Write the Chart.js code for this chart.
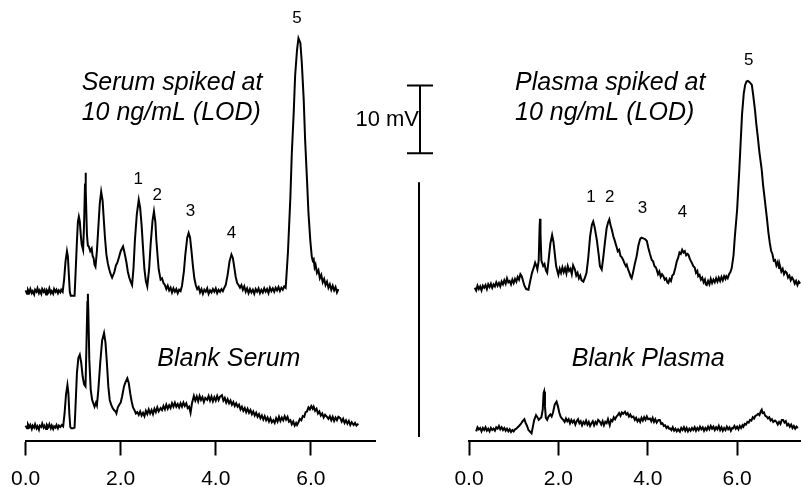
<!DOCTYPE html>
<html><head><meta charset="utf-8">
<script src="https://cdn.jsdelivr.net/npm/chart.js@4"></script>
<style>
html,body{margin:0;padding:0;background:#fff;}
#wrap{position:relative;width:801px;height:487px;overflow:hidden;background:#fff;}
#cL{position:absolute;left:0;top:0;}
#cR{position:absolute;left:440px;top:0;}
</style></head><body>
<div id="wrap">
<canvas id="cL" width="440" height="487"></canvas>
<canvas id="cR" width="361" height="487"></canvas>
</div>
<script>
// x: retention time (min); y: detector signal (mV) relative to each trace's own baseline
const xTickValues = [0, 2, 4, 6];

const serumSpiked = [
[0.00,0.2],[0.03,-0.3],[0.05,0.3],[0.08,-0.1],[0.10,0.4],[0.13,-0.2],[0.15,0.1],[0.18,-0.4],[0.20,0.3],[0.23,0.0],[0.25,0.5],[0.28,-0.2],[0.30,0.2],[0.33,-0.3],[0.35,0.4],[0.38,0.0],[0.40,0.3],[0.43,-0.4],[0.45,0.2],[0.48,-0.1],[0.50,0.5],[0.53,-0.2],[0.55,0.1],[0.58,-0.3],[0.60,0.4],[0.63,0.0],[0.65,0.3],[0.68,-0.2],[0.70,0.2],[0.73,-0.1],[0.75,0.3],[0.78,0.0],
[0.81,1.8],[0.84,4.5],[0.87,6.0],[0.89,5.2],[0.91,2.5],[0.93,0.0],[0.95,-0.6],[0.99,-0.6],[1.03,-0.6],
[1.05,2.5],[1.08,7.5],[1.10,10.3],[1.12,11.1],[1.14,10.4],[1.16,8.5],[1.18,7.0],[1.21,6.2],[1.23,10.0],[1.25,16.0],[1.26,17.6],[1.27,15.0],[1.29,8.5],[1.31,6.8],[1.33,6.7],[1.36,6.0],[1.39,6.4],[1.41,5.3],[1.43,5.0],[1.45,4.0],[1.47,3.7],[1.50,6.0],[1.53,9.5],[1.56,13.0],[1.59,14.8],[1.62,13.5],[1.64,11.2],[1.67,8.0],[1.70,5.5],[1.73,4.2],[1.76,3.3],[1.79,2.6],[1.82,2.1],[1.85,2.6],[1.87,3.0],[1.90,3.9],[1.93,4.3],[1.96,5.0],[2.00,6.0],[2.05,6.7],[2.08,5.8],[2.12,4.4],[2.15,3.0],[2.18,2.1],[2.21,1.5],[2.24,1.0],[2.27,3.5],[2.30,7.7],[2.34,11.5],[2.38,13.6],[2.41,12.4],[2.44,9.9],[2.47,6.5],[2.50,3.3],[2.53,1.6],[2.56,0.8],[2.60,3.5],[2.63,7.0],[2.67,10.5],[2.70,11.9],[2.73,10.3],[2.75,7.7],[2.78,5.0],[2.80,3.3],[2.84,1.8],[2.87,2.0],[2.90,1.3],[2.93,1.0],[2.96,0.4],[2.99,0.9],[3.02,0.2],[3.05,0.6],[3.08,-0.1],[3.11,0.5],[3.14,0.0],[3.17,0.4],[3.20,-0.2],[3.23,0.3],[3.26,0.1],[3.29,0.9],[3.33,3.0],[3.36,5.5],[3.40,8.0],[3.43,8.7],[3.46,8.0],[3.49,6.0],[3.52,3.8],[3.55,2.0],[3.58,1.0],[3.61,0.4],[3.64,0.7],[3.67,-0.1],[3.70,0.4],[3.73,-0.3],[3.76,0.3],[3.79,0.0],[3.82,0.5],[3.85,-0.3],[3.88,0.2],[3.91,-0.1],[3.94,0.4],[3.97,0.0],[4.00,0.5],[4.03,-0.2],[4.06,0.3],[4.09,0.0],[4.12,0.4],[4.15,0.1],[4.18,0.6],[4.21,1.0],[4.25,2.5],[4.29,4.5],[4.33,5.5],[4.36,5.0],[4.39,3.6],[4.42,2.2],[4.45,1.3],[4.48,1.0],[4.51,0.6],[4.54,1.0],[4.57,0.3],[4.60,0.8],[4.63,0.0],[4.66,0.5],[4.69,-0.2],[4.72,0.4],[4.75,-0.1],[4.78,0.3],[4.81,-0.3],[4.84,0.4],[4.87,0.0],[4.90,0.5],[4.93,-0.2],[4.96,0.3],[4.99,-0.1],[5.02,0.5],[5.05,0.0],[5.08,0.4],[5.11,-0.2],[5.14,0.6],[5.17,0.1],[5.20,0.5],[5.23,0.0],[5.26,0.6],[5.29,0.2],[5.32,0.7],[5.35,0.1],[5.38,0.6],[5.41,0.3],[5.44,0.8],[5.47,0.6],[5.48,1.5],[5.52,6.0],[5.57,14.0],[5.60,20.5],[5.64,26.5],[5.67,32.0],[5.71,35.8],[5.74,37.5],[5.78,36.8],[5.81,33.9],[5.85,28.5],[5.88,22.5],[5.92,16.5],[5.95,11.7],[5.99,7.5],[6.02,5.2],[6.04,4.6],[6.06,4.8],[6.08,3.6],[6.10,4.0],[6.13,2.8],[6.16,3.2],[6.19,2.0],[6.22,2.5],[6.25,1.4],[6.28,1.9],[6.31,1.0],[6.34,1.5],[6.37,0.6],[6.40,1.1],[6.43,0.3],[6.46,0.9],[6.49,0.2],[6.52,0.7],[6.55,-0.1],[6.58,0.4]
];

const serumBlank = [
[0.00,0.2],[0.03,-0.2],[0.05,0.4],[0.08,0.0],[0.10,0.3],[0.13,-0.3],[0.15,0.2],[0.18,-0.1],[0.20,0.4],[0.23,-0.2],[0.25,0.1],[0.28,-0.4],[0.30,0.2],[0.33,0.0],[0.35,0.5],[0.38,-0.1],[0.40,0.2],[0.43,-0.3],[0.45,0.3],[0.48,0.0],[0.50,0.4],[0.53,-0.2],[0.55,0.2],[0.58,-0.3],[0.60,0.1],[0.63,-0.1],[0.65,0.3],[0.68,-0.2],[0.70,0.2],[0.73,0.0],[0.76,0.3],[0.79,0.1],
[0.82,2.0],[0.85,4.8],[0.88,6.2],[0.90,5.0],[0.92,2.0],[0.94,0.0],[0.96,-0.2],[1.00,-0.2],[1.03,-0.1],
[1.05,3.0],[1.08,8.0],[1.11,10.2],[1.14,10.7],[1.17,9.5],[1.20,7.5],[1.23,6.3],[1.26,6.0],[1.28,12.0],[1.30,18.5],[1.31,19.7],[1.32,17.0],[1.34,10.0],[1.37,5.5],[1.40,4.0],[1.43,3.4],[1.45,3.0],[1.48,3.6],[1.50,3.2],[1.53,5.5],[1.57,9.5],[1.61,12.8],[1.65,13.9],[1.68,12.5],[1.71,9.5],[1.74,6.0],[1.77,4.0],[1.80,3.3],[1.83,2.8],[1.86,2.5],[1.89,2.3],[1.91,2.0],[1.94,2.9],[1.97,3.3],[2.00,3.6],[2.03,4.5],[2.07,6.0],[2.10,6.6],[2.14,7.2],[2.17,6.5],[2.20,5.0],[2.23,3.8],[2.26,2.9],[2.29,2.5],[2.32,2.0],[2.35,2.2],[2.38,1.8],[2.41,2.3],[2.44,1.7],[2.47,2.1],[2.50,1.6],[2.53,2.4],[2.56,1.9],[2.59,2.6],[2.62,2.0],[2.65,2.5],[2.68,1.9],[2.71,2.7],[2.74,2.2],[2.77,2.9],[2.80,2.3],[2.84,2.8],[2.87,2.5],[2.90,3.1],[2.93,2.6],[2.96,3.3],[2.99,2.7],[3.02,3.2],[3.05,2.8],[3.08,3.5],[3.11,3.0],[3.14,3.6],[3.17,3.0],[3.20,3.4],[3.23,2.9],[3.26,3.5],[3.29,3.0],[3.32,3.6],[3.35,3.1],[3.38,3.5],[3.41,2.8],[3.44,3.0],[3.47,2.1],[3.50,3.5],[3.54,4.6],[3.57,3.9],[3.60,4.5],[3.63,3.8],[3.66,4.6],[3.69,4.0],[3.72,4.4],[3.75,3.7],[3.78,4.3],[3.82,4.0],[3.85,4.6],[3.88,3.9],[3.91,4.5],[3.94,3.8],[3.97,4.4],[4.00,3.9],[4.03,4.6],[4.06,4.0],[4.09,4.5],[4.13,4.7],[4.16,3.9],[4.19,4.3],[4.22,3.6],[4.25,4.1],[4.28,3.5],[4.31,3.9],[4.34,3.3],[4.37,3.7],[4.40,3.1],[4.43,3.5],[4.46,3.0],[4.49,3.3],[4.52,2.6],[4.55,3.0],[4.58,2.4],[4.61,2.8],[4.64,2.2],[4.67,2.7],[4.70,2.1],[4.73,2.5],[4.76,1.9],[4.79,2.3],[4.82,1.7],[4.85,2.1],[4.88,1.5],[4.91,1.9],[4.94,1.3],[4.97,1.7],[5.00,1.1],[5.03,1.6],[5.06,1.0],[5.09,1.4],[5.12,0.8],[5.15,1.3],[5.18,0.7],[5.21,1.0],[5.24,0.6],[5.27,1.3],[5.30,0.8],[5.33,1.5],[5.36,0.9],[5.39,1.4],[5.42,1.0],[5.45,1.6],[5.48,1.1],[5.51,1.5],[5.54,0.8],[5.57,1.0],[5.60,0.4],[5.63,0.8],[5.66,0.2],[5.69,0.6],[5.71,0.3],[5.74,0.7],[5.77,1.2],[5.80,1.0],[5.83,1.6],[5.86,1.5],[5.89,2.2],[5.92,2.3],[5.95,2.9],[5.98,2.6],[6.01,3.1],[6.04,2.7],[6.06,3.0],[6.09,2.4],[6.12,2.7],[6.15,2.0],[6.18,2.3],[6.21,1.7],[6.24,2.0],[6.27,1.4],[6.30,1.8],[6.34,1.5],[6.37,1.2],[6.40,1.6],[6.43,1.0],[6.46,1.5],[6.49,0.9],[6.52,1.4],[6.55,1.0],[6.58,1.5],[6.62,1.3],[6.65,0.8],[6.68,1.2],[6.71,0.6],[6.74,1.0],[6.77,0.5],[6.80,0.9],[6.83,0.3],[6.86,0.7],[6.90,0.3],[6.93,0.6],[6.96,0.2],[7.00,0.5]
];

const plasmaSpiked = [
[0.13,0.0],[0.16,-0.4],[0.19,0.3],[0.22,-0.2],[0.25,0.2],[0.28,-0.4],[0.31,0.3],[0.34,0.0],[0.37,0.4],[0.40,-0.2],[0.43,0.5],[0.46,0.1],[0.49,0.6],[0.52,0.0],[0.55,0.5],[0.58,0.2],[0.61,0.8],[0.64,0.3],[0.67,0.7],[0.70,0.2],[0.73,0.9],[0.76,0.5],[0.79,1.1],[0.82,0.6],[0.85,1.4],[0.88,0.8],[0.91,1.0],[0.94,0.5],[0.97,1.2],[1.00,0.7],[1.03,1.3],[1.06,0.9],[1.09,1.6],[1.12,1.2],[1.15,2.0],[1.18,1.7],[1.21,1.0],[1.24,0.3],[1.28,-0.2],[1.33,-0.3],[1.37,1.0],[1.41,2.2],[1.45,3.0],[1.48,3.7],[1.51,3.2],[1.53,2.7],[1.56,4.0],[1.58,9.0],[1.59,10.2],[1.60,8.0],[1.62,4.0],[1.66,3.2],[1.69,3.5],[1.72,2.6],[1.75,2.2],[1.78,4.0],[1.82,6.5],[1.86,7.8],[1.89,6.8],[1.92,5.0],[1.95,3.2],[1.98,2.4],[2.00,1.9],[2.03,2.8],[2.06,2.2],[2.09,3.0],[2.12,2.3],[2.15,2.9],[2.18,2.1],[2.21,3.2],[2.24,2.5],[2.27,2.8],[2.30,2.0],[2.33,3.3],[2.37,2.7],[2.40,1.8],[2.43,2.2],[2.46,1.4],[2.49,1.8],[2.52,1.1],[2.56,0.9],[2.60,1.6],[2.63,2.2],[2.67,4.5],[2.71,7.6],[2.75,9.3],[2.78,9.8],[2.81,9.0],[2.86,7.1],[2.90,5.0],[2.93,3.2],[2.97,2.7],[3.00,4.2],[3.04,6.6],[3.08,8.8],[3.11,9.6],[3.14,10.1],[3.17,9.2],[3.20,8.5],[3.23,7.6],[3.26,7.0],[3.30,6.1],[3.33,5.4],[3.36,5.6],[3.39,4.7],[3.42,4.5],[3.45,4.1],[3.48,3.6],[3.51,3.2],[3.53,3.4],[3.56,2.7],[3.59,2.2],[3.62,1.6],[3.64,1.4],[3.67,2.2],[3.71,3.5],[3.75,4.6],[3.79,6.2],[3.83,7.2],[3.86,7.4],[3.90,7.3],[3.94,7.2],[3.98,6.9],[4.01,6.0],[4.05,5.0],[4.09,4.1],[4.12,3.9],[4.15,3.2],[4.18,3.0],[4.20,2.7],[4.23,2.0],[4.26,2.4],[4.29,1.6],[4.32,2.0],[4.35,1.7],[4.38,1.2],[4.41,1.4],[4.44,0.8],[4.46,0.7],[4.49,1.3],[4.52,1.0],[4.55,1.8],[4.58,2.0],[4.62,3.0],[4.65,3.9],[4.68,4.4],[4.71,5.2],[4.74,5.0],[4.77,5.6],[4.80,5.2],[4.83,5.4],[4.86,4.8],[4.89,5.0],[4.91,4.9],[4.94,4.3],[4.97,3.9],[5.00,3.5],[5.02,3.2],[5.05,3.0],[5.08,2.2],[5.11,2.5],[5.13,1.7],[5.16,1.9],[5.19,1.2],[5.22,1.5],[5.25,0.8],[5.28,1.2],[5.30,0.5],[5.32,0.4],[5.35,1.0],[5.38,0.5],[5.41,1.3],[5.44,0.7],[5.47,1.2],[5.50,0.8],[5.53,1.4],[5.56,0.9],[5.59,1.5],[5.62,1.0],[5.65,1.6],[5.68,1.1],[5.71,1.7],[5.74,1.3],[5.76,1.7],[5.79,1.4],[5.82,2.0],[5.85,2.3],[5.88,2.9],[5.92,4.8],[5.95,7.6],[6.00,11.5],[6.05,17.5],[6.11,25.6],[6.15,28.8],[6.18,30.0],[6.21,30.5],[6.24,30.6],[6.28,30.4],[6.33,30.0],[6.36,28.5],[6.40,26.3],[6.43,24.2],[6.46,22.5],[6.50,20.0],[6.55,17.5],[6.58,15.3],[6.62,13.0],[6.67,10.1],[6.70,8.2],[6.73,6.7],[6.76,5.5],[6.79,5.0],[6.82,4.0],[6.85,4.1],[6.88,3.3],[6.91,3.8],[6.94,2.9],[6.96,3.2],[6.99,2.4],[7.02,2.8],[7.05,2.0],[7.08,2.4],[7.11,2.2],[7.14,1.5],[7.17,1.8],[7.20,1.1],[7.23,1.5],[7.26,1.2],[7.29,0.6],[7.32,1.0],[7.35,0.4],[7.38,0.9],[7.41,0.6]
];

const plasmaBlank = [
[0.16,-0.2],[0.19,0.4],[0.22,0.1],[0.25,0.3],[0.28,-0.2],[0.31,0.3],[0.34,0.0],[0.37,0.4],[0.40,-0.1],[0.43,0.2],[0.46,-0.2],[0.49,0.3],[0.52,0.0],[0.55,0.2],[0.58,-0.1],[0.61,0.4],[0.64,0.2],[0.67,0.6],[0.70,0.1],[0.73,0.4],[0.76,0.0],[0.79,0.3],[0.82,-0.1],[0.85,0.2],[0.88,-0.2],[0.91,0.1],[0.94,-0.3],[0.97,0.0],[1.00,-0.2],[1.03,0.1],[1.06,0.2],[1.09,0.4],[1.12,0.6],[1.16,0.9],[1.20,1.3],[1.24,1.6],[1.27,1.0],[1.30,0.6],[1.33,0.0],[1.36,-0.2],[1.40,-0.5],[1.43,0.5],[1.46,1.5],[1.50,2.2],[1.53,1.9],[1.56,1.5],[1.59,1.7],[1.62,1.9],[1.65,3.0],[1.67,5.5],[1.68,5.7],[1.70,3.5],[1.72,1.8],[1.75,1.5],[1.78,2.0],[1.82,2.3],[1.85,2.0],[1.88,2.6],[1.92,3.8],[1.96,4.2],[1.99,3.5],[2.02,2.6],[2.05,2.0],[2.08,1.7],[2.11,1.5],[2.14,1.2],[2.17,1.7],[2.20,1.3],[2.23,1.6],[2.26,1.0],[2.29,1.5],[2.32,1.1],[2.35,1.4],[2.38,0.8],[2.41,1.3],[2.44,1.6],[2.47,1.0],[2.50,1.3],[2.53,0.7],[2.56,1.2],[2.59,0.9],[2.62,1.4],[2.65,0.8],[2.68,1.2],[2.71,0.6],[2.74,1.0],[2.77,1.3],[2.80,0.7],[2.83,1.2],[2.86,0.9],[2.89,1.5],[2.93,1.2],[2.96,0.8],[2.99,1.3],[3.02,0.7],[3.05,1.2],[3.08,1.0],[3.11,1.6],[3.15,0.7],[3.18,1.5],[3.21,1.3],[3.24,1.9],[3.27,1.6],[3.30,2.0],[3.33,2.2],[3.36,2.5],[3.39,2.1],[3.42,2.6],[3.45,2.4],[3.49,2.7],[3.52,2.3],[3.55,2.5],[3.58,2.0],[3.61,2.3],[3.64,1.9],[3.68,2.0],[3.71,1.5],[3.74,1.8],[3.77,1.3],[3.80,1.6],[3.83,1.2],[3.86,1.8],[3.89,1.4],[3.92,1.9],[3.95,1.5],[3.98,2.0],[4.01,1.6],[4.05,1.7],[4.08,1.3],[4.11,1.8],[4.14,1.2],[4.17,1.6],[4.20,1.1],[4.24,1.5],[4.27,1.5],[4.30,0.9],[4.33,1.0],[4.36,0.6],[4.39,0.7],[4.42,0.3],[4.45,0.5],[4.48,0.2],[4.50,0.25],[4.53,0.0],[4.56,0.4],[4.59,-0.1],[4.62,0.2],[4.65,-0.2],[4.68,0.1],[4.72,-0.25],[4.75,0.3],[4.78,0.0],[4.81,0.4],[4.84,-0.1],[4.87,0.3],[4.90,-0.2],[4.93,0.2],[4.96,-0.1],[4.99,0.3],[5.02,0.0],[5.05,0.4],[5.08,-0.1],[5.11,0.3],[5.14,0.0],[5.17,0.5],[5.20,0.1],[5.23,0.4],[5.26,-0.1],[5.29,0.3],[5.32,0.0],[5.35,0.5],[5.38,0.1],[5.41,0.6],[5.44,0.2],[5.47,0.5],[5.50,0.0],[5.53,0.4],[5.56,0.1],[5.59,0.6],[5.62,0.0],[5.65,0.4],[5.68,-0.1],[5.71,0.3],[5.74,0.0],[5.77,0.5],[5.80,0.1],[5.83,0.4],[5.86,-0.1],[5.89,0.3],[5.91,0.25],[5.94,0.6],[5.97,0.2],[6.00,0.5],[6.03,0.1],[6.06,0.6],[6.09,0.3],[6.12,0.7],[6.14,0.5],[6.17,0.9],[6.20,0.8],[6.23,1.2],[6.26,1.1],[6.29,1.5],[6.32,1.4],[6.35,1.9],[6.38,1.7],[6.41,2.1],[6.44,2.2],[6.47,2.4],[6.50,2.2],[6.53,2.8],[6.55,3.0],[6.57,2.5],[6.60,2.6],[6.63,2.1],[6.66,2.0],[6.69,1.7],[6.72,1.9],[6.75,1.4],[6.78,1.6],[6.81,1.2],[6.85,1.4],[6.88,1.2],[6.91,0.8],[6.94,1.2],[6.97,0.9],[7.00,1.5],[7.03,1.5],[7.06,1.1],[7.09,1.3],[7.12,0.7],[7.15,0.9],[7.18,0.5],[7.21,0.8],[7.24,0.3],[7.27,0.6],[7.30,0.2],[7.33,0.5],[7.36,0.3]
];

// vertical display offsets of the stacked traces (mV)
const serumSpikedOffset = 22.0;
const serumBlankOffset = 2.0;
const plasmaSpikedOffset = 22.6;
const plasmaBlankOffset = 1.55;

// peak numbering
const peakLabels = ['1', '2', '3', '4', '5'];
const serumPeakTimes = [2.37, 2.77, 3.47, 4.33, 5.71];
const serumPeakLabelLevels = [38.7, 36.2, 33.9, 30.7, 62.5];
const plasmaPeakTimes = [2.73, 3.15, 3.88, 4.78, 6.26];
const plasmaPeakLabelLevels = [35.9, 35.9, 34.3, 33.7, 56.3];

const scaleBarMV = 10;

const FONT = "'Liberation Sans', Arial, Helvetica, sans-serif";
const Y_MAX = 65.16;

const annotPlugin = {
  id: 'annot',
  afterDraw(chart, args, opts) {
    const ctx = chart.ctx, xs = chart.scales.x, ys = chart.scales.y;
    ctx.save();
    ctx.fillStyle = '#000';
    ctx.strokeStyle = '#000';
    (opts.texts || []).forEach(t => {
      ctx.font = t.font;
      ctx.textAlign = t.align || 'left';
      ctx.textBaseline = t.baseline || 'alphabetic';
      ctx.fillText(t.text, xs.getPixelForValue(t.t), ys.getPixelForValue(t.v));
    });
    if (opts.peaks) {
      ctx.font = '17px ' + FONT;
      ctx.textAlign = 'center';
      ctx.textBaseline = 'middle';
      opts.peaks.labels.forEach((l, i) => {
        ctx.fillText(l, xs.getPixelForValue(opts.peaks.times[i]), ys.getPixelForValue(opts.peaks.levels[i]));
      });
    }
    if (opts.bar) {
      const b = opts.bar;
      const px = Math.round(xs.getPixelForValue(b.t)) ;
      const top = ys.getPixelForValue(b.v0 + scaleBarMV), bot = ys.getPixelForValue(b.v0);
      ctx.lineWidth = 2;
      ctx.beginPath();
      ctx.moveTo(px, top); ctx.lineTo(px, bot);
      ctx.moveTo(px - 13, top); ctx.lineTo(px + 13, top);
      ctx.moveTo(px - 13, bot); ctx.lineTo(px + 13, bot);
      ctx.stroke();
      ctx.font = '22px ' + FONT;
      ctx.textAlign = 'right';
      ctx.textBaseline = 'middle';
      ctx.fillText(scaleBarMV + ' mV', px - 1, (top + bot) / 2 + 1);
    }
    if (opts.vline) {
      const v = opts.vline;
      const px = Math.round(xs.getPixelForValue(v.t));
      ctx.lineWidth = 2;
      ctx.beginPath();
      ctx.moveTo(px, ys.getPixelForValue(v.v1));
      ctx.lineTo(px, ys.getPixelForValue(v.v0));
      ctx.stroke();
    }
    ctx.restore();
  }
};

function traceDataset(points, offset) {
  return {
    data: points.map(p => ({ x: p[0], y: p[1] + offset })),
    showLine: true, borderColor: '#000', borderWidth: 2,
    pointRadius: 0, tension: 0, fill: false, clip: false
  };
}

function makeChart(id, datasets, xMax, padLeft, padRight, annot) {
  return new Chart(document.getElementById(id), {
    type: 'scatter',
    data: { datasets },
    options: {
      responsive: false, animation: false, events: [],
      layout: { padding: { left: padLeft, right: padRight, top: 0, bottom: 0 } },
      plugins: { legend: { display: false }, tooltip: { enabled: false }, annot },
      scales: {
        x: {
          type: 'linear', min: 0, max: xMax,
          afterBuildTicks: s => { s.ticks = xTickValues.map(v => ({ value: v })); },
          afterFit: s => { s.height = 46.5; },
          ticks: { callback: v => Number(v).toFixed(1), font: { family: FONT, size: 21 }, color: '#000', padding: 11, maxRotation: 0, autoSkip: false },
          grid: { drawOnChartArea: false, drawTicks: true, tickLength: 15, tickWidth: 2, color: '#000' },
          border: { display: true, color: '#000', width: 2 }
        },
        y: { display: false, min: 0, max: Y_MAX }
      }
    },
    plugins: [annotPlugin]
  });
}

const italic = 'italic 25px ' + FONT;

makeChart('cL',
  [traceDataset(serumSpiked, serumSpikedOffset), traceDataset(serumBlank, serumBlankOffset)],
  7.35, 25, 65,
  {
    texts: [
      { text: 'Serum spiked at', t: 1.18, v: 51.8, font: italic },
      { text: '10 ng/mL (LOD)', t: 1.18, v: 47.4, font: italic },
      { text: 'Blank Serum', t: 2.77, v: 11.0, font: italic }
    ],
    peaks: { labels: peakLabels, times: serumPeakTimes, levels: serumPeakLabelLevels },
    bar: { t: 8.30, v0: 42.5 },
    vline: { t: 8.27, v0: 0.5, v1: 38.2 }
  });

makeChart('cR',
  [traceDataset(plasmaSpiked, plasmaSpikedOffset), traceDataset(plasmaBlank, plasmaBlankOffset)],
  7.43, 29, 0,
  {
    texts: [
      { text: 'Plasma spiked at', t: 1.03, v: 51.8, font: italic },
      { text: '10 ng/mL (LOD)', t: 1.03, v: 47.4, font: italic },
      { text: 'Blank Plasma', t: 2.30, v: 11.0, font: italic }
    ],
    peaks: { labels: peakLabels, times: plasmaPeakTimes, levels: plasmaPeakLabelLevels }
  });
</script>
</body></html>
